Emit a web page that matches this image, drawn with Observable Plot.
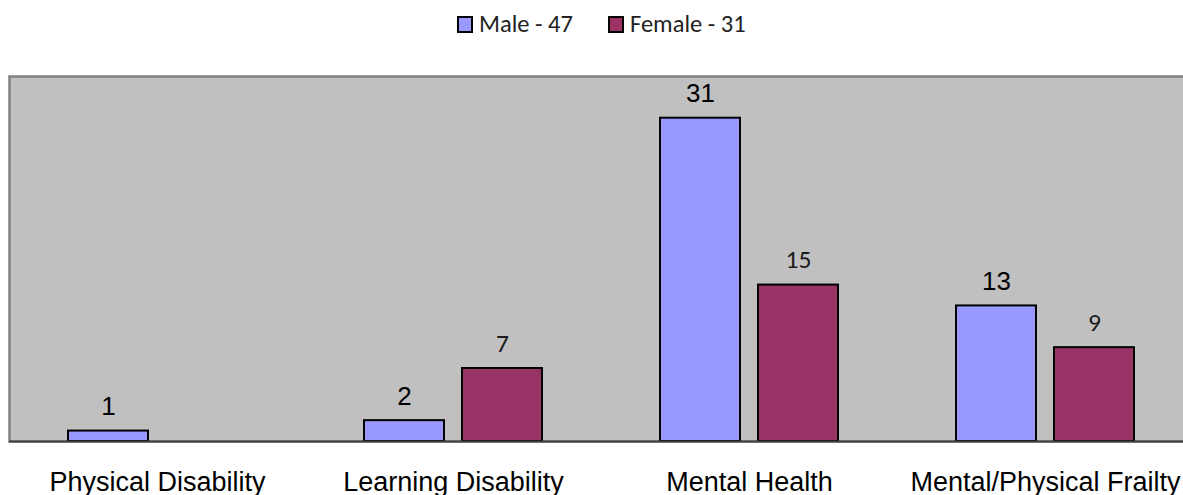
<!DOCTYPE html>
<html>
<head>
<meta charset="utf-8">
<script src="https://cdn.jsdelivr.net/npm/d3@7"></script>
<script src="https://cdn.jsdelivr.net/npm/@observablehq/plot@0.6"></script>
<style>
  html, body { margin: 0; padding: 0; background: #fff; overflow: hidden; }
  #wrap { position: relative; width: 1183px; height: 495px; overflow: hidden; }
  #legend { position: relative; height: 60px; font-family: Carlito, Calibri, Lato, sans-serif; font-size: 24.5px; color: #222; }
  .item { position: absolute; top: 10px; display: flex; align-items: center; line-height: 28px; }
  .sw { width: 12px; height: 13px; border: 2px solid #000; margin-right: 6px; }
  #chart svg { display: block; max-width: none !important; }
</style>
</head>
<body>
<div id="wrap">
  <div id="legend"></div>
  <div id="chart"></div>
</div>
<script>
const categories = ["Physical Disability", "Learning Disability", "Mental Health", "Mental/Physical Frailty"];
const maleValues = [1, 2, 31, 13];
const femaleValues = [null, 7, 15, 9];
const seriesNames = ["Male - 47", "Female - 31"];
const seriesColors = ["#9999FF", "#993366"];

// legend
const legend = document.getElementById("legend");
const legendLeft = [457, 608];
seriesNames.forEach((name, i) => {
  const it = document.createElement("div");
  it.className = "item";
  it.style.left = legendLeft[i] + "px";
  const sw = document.createElement("div");
  sw.className = "sw";
  sw.style.background = seriesColors[i];
  const tx = document.createElement("span");
  tx.textContent = name;
  it.appendChild(sw);
  it.appendChild(tx);
  legend.appendChild(it);
});

const male = categories.map((c, i) => ({cat: c, value: maleValues[i]})).filter(d => d.value != null);
const female = categories.map((c, i) => ({cat: c, value: femaleValues[i]})).filter(d => d.value != null);

const chart = Plot.plot({
  width: 1193,
  height: 435,
  marginLeft: 9,
  marginRight: 0,
  marginTop: 16,
  marginBottom: 54,
  style: {maxWidth: "none", overflow: "visible"},
  x: {domain: categories, padding: 0, axis: null},
  y: {domain: [0, 35], axis: null},
  marks: [
    Plot.frame({fill: "#C0C0C0", stroke: "#808080", strokeWidth: 2.5}),
    Plot.barY(male, {x: "cat", y: "value", fill: seriesColors[0], stroke: "#000", strokeWidth: 2, insetLeft: 59, insetRight: 157}),
    Plot.barY(female, {x: "cat", y: "value", fill: seriesColors[1], stroke: "#000", strokeWidth: 2, insetLeft: 157, insetRight: 59}),
    Plot.ruleY([0], {stroke: "#404040", strokeWidth: 2}),
    Plot.text(male, {x: "cat", y: "value", text: d => String(d.value), dx: -49, dy: -16, lineAnchor: "bottom", fontSize: 26, fontFamily: "'Liberation Sans', Arial, sans-serif", fill: "#000"}),
    Plot.text(female, {x: "cat", y: "value", text: d => String(d.value), dx: 49, dy: -17, lineAnchor: "bottom", fontSize: 25.5, fontFamily: "Carlito, Calibri, Lato, sans-serif", fill: "#1a1a1a"}),
    Plot.text(categories, {x: d => d, text: d => d, frameAnchor: "bottom", lineAnchor: "bottom", dy: 49, fontSize: 27, fontFamily: "'Liberation Sans', Arial, sans-serif", fill: "#000"})
  ]
});
document.getElementById("chart").appendChild(chart);
</script>
</body>
</html>
